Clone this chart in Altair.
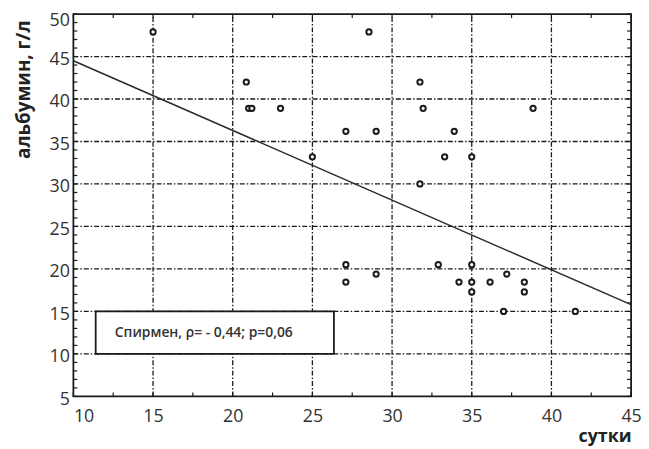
import altair as alt
import pandas as pd

# data
days = [15.0, 28.55, 20.85, 31.75, 21.0, 21.2, 23.0, 31.95, 38.85, 27.1, 29.0, 33.9,
        25.0, 33.3, 35.0, 31.75, 27.1, 27.1, 29.0, 32.9, 35.0, 34.2, 35.0, 35.0,
        36.15, 37.2, 38.3, 38.3, 37.0, 41.5]
albumin = [47.9, 47.9, 42.0, 42.0, 38.9, 38.9, 38.9, 38.9, 38.9, 36.2, 36.2, 36.2,
           33.2, 33.2, 33.2, 30.0, 20.5, 18.45, 19.4, 20.5, 20.5, 18.45, 18.45, 17.3,
           18.45, 19.4, 18.45, 17.3, 15.0, 15.0]
fit_x = [10, 45]
fit_y = [44.5, 15.8]
box_x = [11.4]
box_x2 = [26.35]
box_y = [10]
box_y2 = [15]
note_x = [12.6]
note_y = [12.4]
note_text = ["Спирмен, ρ= - 0,44; р=0,06"]

x_ticks = [10, 15, 20, 25, 30, 35, 40, 45]
y_ticks = [5, 10, 15, 20, 25, 30, 35, 40, 45, 50]
x_minor = [10 + 2.5 * i for i in range(15)]
y_minor = list(range(5, 51))
x_domain = [10, 45]
y_domain = [5, 50]

W, H = 563, 386
FONT = "Open Sans"
INK = "#1a1a1a"
DASH = [5, 2, 1.5, 2]

pts = pd.DataFrame({"x": days, "y": albumin})
fit = pd.DataFrame({"x": fit_x, "y": fit_y})
box = pd.DataFrame({"x": box_x, "x2": box_x2, "y": box_y, "y2": box_y2})
note = pd.DataFrame({"x": note_x, "y": note_y, "t": note_text})
vgrid = pd.DataFrame({"x": x_ticks[1:-1], "y0": y_domain[0], "y1": y_domain[1]})
hgrid = pd.DataFrame({"y": y_ticks[1:-1], "x0": x_domain[0], "x1": x_domain[1]})
xmin_df = pd.DataFrame({"x": x_minor})
ymin_df = pd.DataFrame({"y": y_minor})

xs = alt.Scale(domain=x_domain, nice=False, zero=False)
ys = alt.Scale(domain=y_domain, nice=False, zero=False)

x_main = alt.Axis(values=x_ticks, grid=False, ticks=False, domain=False,
                  labelFont=FONT, labelFontSize=18, labelColor="#333333", labelPadding=11,
                  labelAlign={"condition": {"test": "datum.value == 10", "value": "left"},
                              "value": "center"},
                  title="сутки", titleFont=FONT, titleFontSize=18, titleFontWeight="bold",
                  titleColor="#222222", titleAnchor="end", titleAlign="right",
                  titleX=W, titleY=46, titleBaseline="alphabetic")
y_main = alt.Axis(values=y_ticks, grid=False, ticks=False, domain=False,
                  labelFont=FONT, labelFontSize=18, labelColor="#333333", labelPadding=4,
                  labelOffset={"condition": {"test": "datum.value == 50", "value": 7},
                               "value": 3},
                  title="альбумин, г/л", titleFont=FONT, titleFontSize=19,
                  titleFontWeight="bold", titleColor="#222222", titleAnchor="end",
                  titleAlign="right", titleX=-44, titleY=6, titleBaseline="alphabetic")

X = lambda f: alt.X(f, scale=xs, axis=x_main)
Y = lambda f: alt.Y(f, scale=ys, axis=y_main)

vlines = alt.Chart(vgrid).mark_rule(color=INK, strokeWidth=1.3, strokeDash=DASH).encode(
    x=X("x:Q"), y=Y("y0:Q"), y2="y1:Q")
hlines = alt.Chart(hgrid).mark_rule(color=INK, strokeWidth=1.3, strokeDash=DASH).encode(
    y=Y("y:Q"), x=X("x0:Q"), x2="x1:Q")

tick_style = dict(color=INK, strokeWidth=1.2)
left_ticks = alt.Chart(ymin_df).mark_rule(**tick_style).encode(
    y=Y("y:Q"), x=alt.value(0), x2=alt.value(4))
right_ticks = alt.Chart(ymin_df).mark_rule(**tick_style).encode(
    y=Y("y:Q"), x=alt.value(W - 4), x2=alt.value(W))
bottom_ticks = alt.Chart(xmin_df).mark_rule(**tick_style).encode(
    x=X("x:Q"), y=alt.value(H - 4), y2=alt.value(H))
top_ticks = alt.Chart(xmin_df).mark_rule(**tick_style).encode(
    x=X("x:Q"), y=alt.value(0), y2=alt.value(4))

rect = alt.Chart(box).mark_rect(fill="white", stroke=INK, strokeWidth=1.8).encode(
    x=X("x:Q"), x2="x2:Q", y=Y("y:Q"), y2="y2:Q")

points = alt.Chart(pts).mark_point(shape="circle", size=28, fill="white", fillOpacity=1,
                                   stroke=INK, strokeWidth=2, opacity=1).encode(
    x=X("x:Q"), y=Y("y:Q"))

line = alt.Chart(fit).mark_line(color="#2a2a2a", strokeWidth=1.5).encode(
    x=X("x:Q"), y=Y("y:Q"))

text = alt.Chart(note).mark_text(align="left", baseline="middle", font=FONT, fontSize=14,
                                 fontWeight=600, color="#333333").encode(
    x=X("x:Q"), y=Y("y:Q"), text="t:N")

chart = alt.layer(vlines, hlines, left_ticks, right_ticks, bottom_ticks, top_ticks,
                  rect, points, line, text).properties(
    width=W, height=H,
    autosize=alt.AutoSizeParams(type="none"),
    padding={"left": 66, "top": 4, "right": 10, "bottom": 51},
    background="white",
).configure_view(stroke=INK, strokeWidth=1.8)

chart.save("out.html", embed_options={"renderer": "svg", "actions": False})
